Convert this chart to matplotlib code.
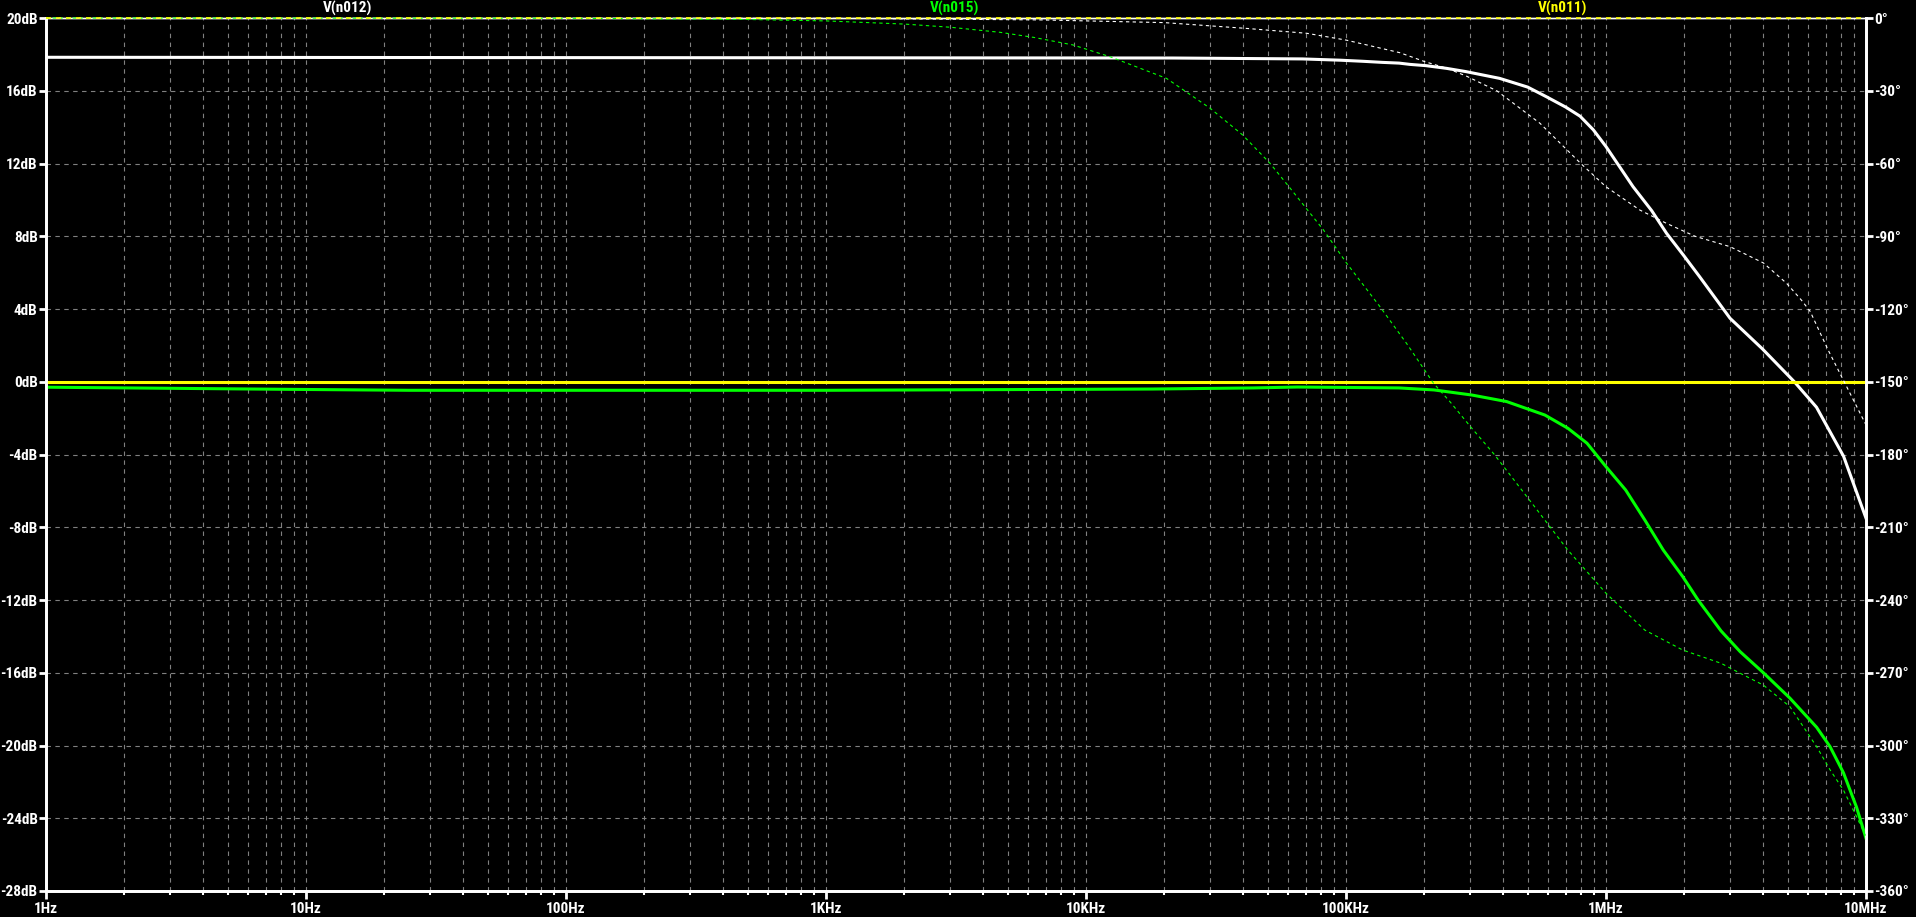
import matplotlib
matplotlib.use("Agg")
import matplotlib.pyplot as plt
from matplotlib import font_manager
from matplotlib.ticker import FixedLocator, NullFormatter

# LTspice uses a narrow pixel font; take a narrow family when there is one
names = {f.name for f in font_manager.fontManager.ttflist}
NARROW = next((n for n in ["Liberation Sans Narrow", "DejaVu Sans Condensed", "Roboto Condensed"]
               if n in names), "DejaVu Sans")
plt.rcParams['font.family'] = [NARROW, 'DejaVu Sans']

# ── data ──
# V(n012): magnitude (dB) and phase (deg)
f_n012_mag = [1, 2.16e4, 6.8e4, 9.5e4, 1.16e5, 1.38e5, 1.6e5, 1.76e5, 2.03e5, 2.44e5, 2.9e5,
              3.9e5, 5.0e5, 5.9e5, 7.0e5, 7.95e5, 8.94e5, 1.0e6, 1.27e6, 1.5e6, 1.71e6, 2.0e6,
              2.29e6, 3.0e6, 4.0e6, 5.3e6, 6.45e6, 8.2e6, 1.0e7]
mag_n012 = [17.84, 17.80, 17.75, 17.68, 17.62, 17.56, 17.52, 17.45, 17.38, 17.23, 17.05,
            16.68, 16.2, 15.67, 15.1, 14.6, 13.85, 12.93, 10.73, 9.4, 8.16, 6.9,
            5.78, 3.49, 1.8, 0.0, -1.4, -4.1, -7.5]
f_n012_ph = [1, 1e3, 6.8e3, 2.0e4, 4.15e4, 7.06e4, 1.0e5, 1.61e5, 2.01e5, 2.44e5, 2.91e5, 3.8e5,
             5.57e5, 8.0e5, 1.0e6, 1.35e6, 1.71e6, 2.2e6, 3.0e6, 4.03e6, 4.95e6, 5.64e6, 6.1e6,
             7.15e6, 1.0e7]
ph_n012 = [0, -0.1, -0.8, -1.9, -4.3, -6.3, -9.1, -14.3, -18.0, -20.7, -24.0, -30.0,
           -43.4, -60.0, -69.6, -79.2, -84.7, -90.0, -94.3, -101, -109.4, -116.3, -121,
           -136.9, -167.8]

# V(n015)
f_n015_mag = [1, 3, 9, 25, 1e3, 1.8e4, 4.4e4, 6.5e4, 1.6e5, 2.18e5, 3.05e5, 4.15e5, 5.82e5,
              7.14e5, 8.45e5, 1.0e6, 1.19e6, 1.41e6, 1.66e6, 1.97e6, 2.26e6, 2.77e6, 3.28e6,
              4.03e6, 5.1e6, 6.46e6, 7.27e6, 8.19e6, 9.2e6, 1.0e7]
mag_n015 = [-0.30, -0.36, -0.42, -0.47, -0.47, -0.40, -0.34, -0.29, -0.34, -0.45, -0.73, -1.09, -1.83,
            -2.56, -3.38, -4.67, -5.95, -7.6, -9.25, -10.7, -12.0, -13.7, -14.84,
            -16.0, -17.4, -19.0, -20.06, -21.5, -23.4, -25.1]
f_n015_ph = [1, 100, 500, 1e3, 2e3, 3e3, 4.67e3, 6.3e3, 8.9e3, 1.24e4, 2.04e4, 3.0e4, 4.0e4,
             5.1e4, 6.1e4, 8.19e4, 1.007e5, 1.35e5, 1.71e5, 2.17e5, 2.51e5, 3.01e5, 3.72e5,
             5.08e5, 7.13e5, 1.0e6, 1.41e6, 1.97e6, 2.77e6, 3.28e6, 4.03e6, 5.1e6, 6.46e6,
             7.27e6, 8.19e6, 9.2e6, 1.0e7]
ph_n015 = [0, -0.1, -0.6, -1.2, -2.5, -3.8, -5.9, -8.0, -11.1, -16.0, -24.9, -37.2, -48.2,
           -59.9, -70.2, -87.4, -101.2, -119.0, -134.2, -150.6, -158.2, -168.5, -180,
           -198.8, -219.4, -237.2, -252.4, -260.6, -266.1, -270.2, -275.1, -284, -300.5,
           -310, -318.4, -329.4, -337.6]

# V(n011): flat
f_n011 = [1, 1e7]
mag_n011 = [0, 0]
ph_n011 = [0, 0]

traces = ["V(n012)", "V(n015)", "V(n011)"]
colors = ["#ffffff", "#00ff00", "#ffff00"]
label_x = [348, 955, 1563]  # px centres of the trace names

db_ticks = list(range(-28, 21, 4))
deg_ticks = list(range(-360, 1, 30))
dec_ticks = [1, 10, 100, 1e3, 1e4, 1e5, 1e6, 1e7]
dec_labels = ["1Hz", "10Hz", "100Hz", "1KHz", "10KHz", "100KHz", "1MHz", "10MHz"]

W, H = 1916, 917
fig = plt.figure(figsize=(W / 100, H / 100), dpi=100, facecolor="black")
ax = fig.add_axes([46 / W, 26 / H, 1820 / W, 873 / H], facecolor="black")
ax2 = ax.twinx()

ax.set_xscale("log")
ax.set_xlim(1, 1e7)
ax.set_ylim(-28, 20)
ax2.set_ylim(-360, 0)

ax.xaxis.set_major_locator(FixedLocator(dec_ticks))
ax.set_xticklabels(dec_labels)
minors = [m * d for d in dec_ticks[:-1] for m in range(2, 10)]
ax.xaxis.set_minor_locator(FixedLocator(minors))
ax.xaxis.set_minor_formatter(NullFormatter())
ax.set_yticks(db_ticks)
ax.set_yticklabels([f"{v}dB" for v in db_ticks])
ax2.set_yticks(deg_ticks)
ax2.set_yticklabels([f"{v}°" for v in deg_ticks])

grid_kw = dict(color="#808080", lw=0.8, linestyle=(0, (4, 4)))
ax.grid(True, which="both", axis="x", **grid_kw)
ax.grid(True, which="major", axis="y", **grid_kw)
ax.set_axisbelow(True)

fs = 11
ax.tick_params(axis="y", colors="white", length=5, width=2, pad=1, labelsize=fs)
ax2.tick_params(axis="y", colors="white", length=5, width=2, pad=1, labelsize=fs)
ax.tick_params(axis="x", which="major", colors="white", length=6, width=2, pad=2, labelsize=fs)
ax.tick_params(axis="x", which="minor", colors="white", length=3, width=1.5)
for a in (ax, ax2):
    for lbl in a.get_xticklabels() + a.get_yticklabels():
        lbl.set_fontweight("bold")
    for side, sp in a.spines.items():
        sp.set_color("white")
        sp.set_linewidth(1.0 if side == "top" else 2.0)

# magnitudes: thick solid; phases: thin dotted
mag_lw, ph_lw = 2.2, 0.8
ph_style = (0, (3, 3))
ax.plot(f_n012_mag, mag_n012, color=colors[0], lw=mag_lw, zorder=3)
ax.plot(f_n015_mag, mag_n015, color=colors[1], lw=mag_lw, zorder=3)
ax.plot(f_n011, mag_n011, color=colors[2], lw=mag_lw, zorder=4)
ax2.plot(f_n012_ph, ph_n012, color=colors[0], lw=ph_lw, ls=ph_style, clip_on=False, zorder=3)
ax2.plot(f_n015_ph, ph_n015, color=colors[1], lw=ph_lw, ls=ph_style, clip_on=False, zorder=3)
ax2.plot(f_n011, ph_n011, color=colors[2], lw=1.2, ls=ph_style, clip_on=False, zorder=4)

for name, col, x in zip(traces, colors, label_x):
    fig.text(x / W, 1 - 8 / H, name, color=col, ha="center", va="center",
             fontsize=fs, fontweight="bold")

fig.savefig("out.png", dpi=100, facecolor="black")
